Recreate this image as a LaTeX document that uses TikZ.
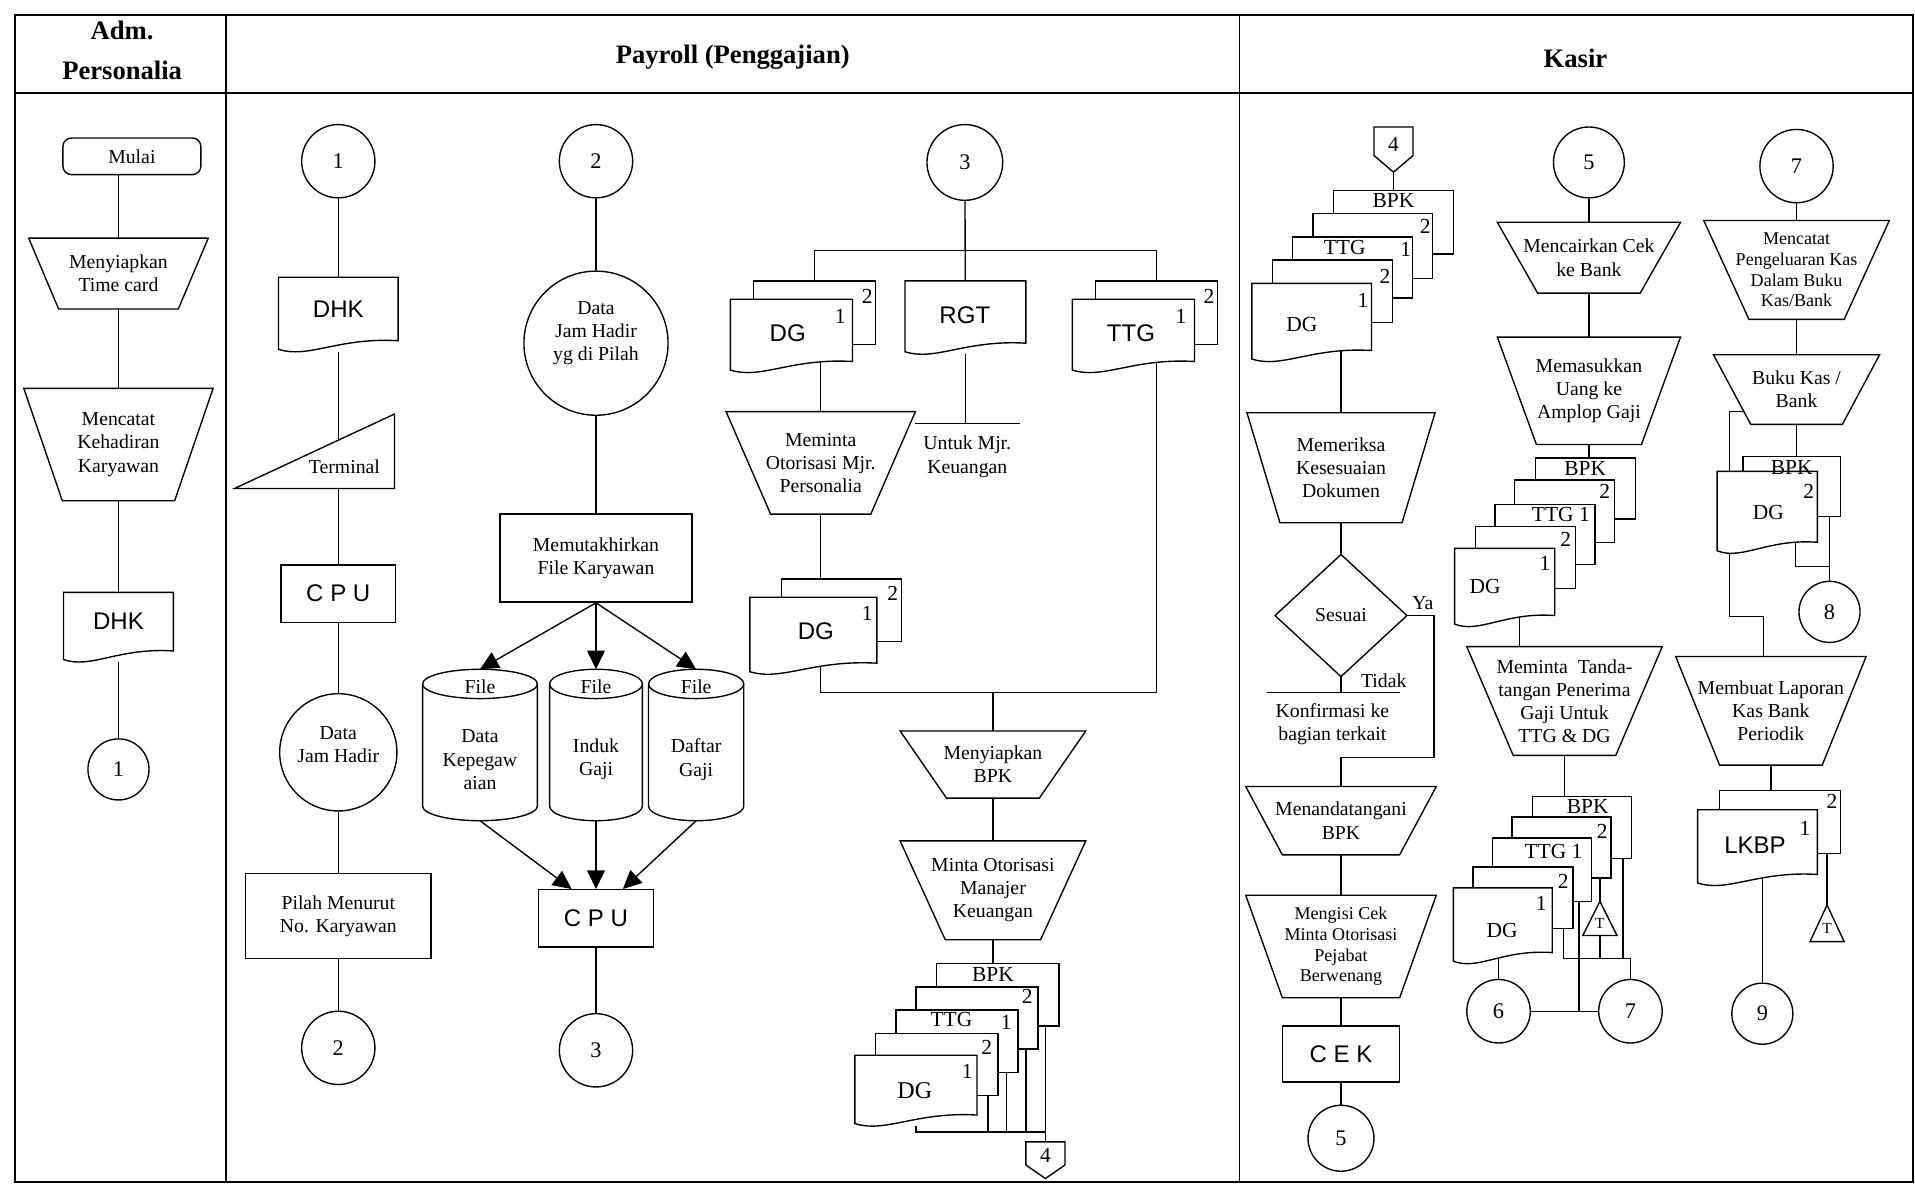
\documentclass[tikz,border=0pt]{standalone}
\usepackage{fontspec}
\setmainfont{Liberation Serif}
\setsansfont{Liberation Sans}
\usetikzlibrary{calc,arrows.meta}

\pgfdeclarelayer{lines}
\pgfsetlayers{lines,main}

\tikzset{
  flow/.style={line width=0.8pt},
  box/.style={draw,fill=white,flow,align=center,inner sep=1pt,font=\fontsize{11.5}{13.5}\selectfont},
  conn/.style={circle,draw,fill=white,flow,inner sep=0pt,font=\fontsize{13}{13}\selectfont},
  page/.style={draw,fill=white,flow,inner sep=0pt},
  anchorbox/.style={inner sep=0pt,outer sep=0pt},
  txt/.style={align=center,inner sep=0pt,font=\fontsize{11.5}{13.5}\selectfont},
  small/.style={align=center,inner sep=0pt,font=\fontsize{10.5}{12}\selectfont},
  code/.style={inner sep=0pt,font=\sffamily\fontsize{14}{16}\selectfont},
  num/.style={inner sep=0pt,font=\fontsize{12.5}{13}\selectfont},
  big/.style={inner sep=0pt,font=\fontsize{14}{14}\selectfont},
  head/.style={align=center,font=\bfseries\fontsize{15.5}{23.5}\selectfont},
  tee/.style={inner sep=0pt,font=\fontsize{9}{9}\selectfont},
  arr/.style={-{Triangle[length=3.8mm,width=3.6mm]}}
}

% manual operation: name, x, y, top width, bottom width, height, style, text
\newcommand{\manop}[8]{%
  \draw[flow,fill=white] ({#2-#4/2},{#3-#6/2}) -- ({#2+#4/2},{#3-#6/2})
    -- ({#2+#5/2},{#3+#6/2}) -- ({#2-#5/2},{#3+#6/2}) -- cycle;
  \node[#7] (#1) at (#2,#3) {#8};}
% document: name, left, top, width, height
\newcommand{\docshape}[5]{%
  \draw[flow,fill=white] (#2,#3) -- ({#2+#4},#3) -- ({#2+#4},{#3+#5-9})
    .. controls ({#2+#4/2},{#3+#5-12}) and ({#2+#4/4},{#3+#5+6}) .. (#2,{#3+#5-2}) -- cycle;
  \node[anchorbox,minimum width={#4*0.25mm},minimum height={#5*0.25mm}] (#1) at ({#2+#4/2},{#3+#5/2}) {};}
% copy behind a document: name, left, top, width, height
\newcommand{\sheet}[5]{%
  \node[page,minimum width={#4*0.25mm},minimum height={#5*0.25mm}] (#1) at ({#2+#4/2},{#3+#5/2}) {};}
% off-page connector: name, x, top, height, text
\newcommand{\offpage}[5]{%
  \draw[flow,fill=white] ({#2-16},#3) -- ({#2+16},#3) -- ({#2+16},{#3+0.63*#4})
    -- (#2,{#3+#4}) -- ({#2-16},{#3+0.63*#4}) -- cycle;
  \node[num] (#1) at (#2,{#3+0.38*#4}) {#5};}
% disk file: name, x, y, width, height
\newcommand{\drum}[5]{%
  \node[anchorbox,minimum width={#4*0.25mm},minimum height={#5*0.25mm}] (#1) at (#2,#3) {};
  \draw[flow,fill=white] ({#2-#4/2},{#3-#5/2+12}) -- ({#2-#4/2},{#3+#5/2-12})
    arc[start angle=180,end angle=360,x radius={#4/2*0.25mm},y radius=3mm]
    -- ({#2+#4/2},{#3-#5/2+12})
    arc[start angle=0,end angle=180,x radius={#4/2*0.25mm},y radius=3mm] -- cycle;
  \draw[flow] ({#2-#4/2},{#3-#5/2+12})
    arc[start angle=180,end angle=360,x radius={#4/2*0.25mm},y radius=3mm];}

\begin{document}
\begin{tikzpicture}[x=0.25mm,y=-0.25mm]
  \useasboundingbox (0,0) rectangle (1568,974);
  % frame and lanes
  \draw[line width=1.2pt] (12,12) rectangle (1566,968);
  \draw[line width=1.2pt] (12,76) -- (1566,76);
  \draw[flow] (185,12) -- (185,968);
  \draw[flow] (1015,12) -- (1015,968);
  \node[head] (admT) at (100,41) {Adm.\\Personalia};
  \node[head] (payT) at (600,47) {Payroll (Penggajian)};
  \node[head] (kasT) at (1290,48) {Kasir};

  % Adm. Personalia
  \node[box,rounded corners=5pt,minimum width=28.25mm,minimum height=7.5mm] (mulai) at (108,128) {Mulai};
  \manop{prep}{97}{224}{147}{98}{58}{txt}{Menyiapkan\\Time card}
  \manop{catat}{97}{364}{155}{92}{92}{txt}{Mencatat\\Kehadiran\\Karyawan}
  \docshape{dhkA}{52}{485}{90}{57}
  \node[code] (dhkAt) at (97,509) {DHK};
  \node[conn,minimum size=12.5mm] (c1a) at (97,630) {1};

  % Payroll, first flow
  \node[conn,minimum size=15mm] (c1b) at (277,132) {1};
  \docshape{dhkB}{228}{227}{98}{61}
  \node[code] (dhkBt) at (277,253) {DHK};
  \draw[flow,fill=white] (192,400) -- (323,339) -- (323,400) -- cycle;
  \node[txt] (term) at (282,382) {Terminal};
  \node[box,code,minimum width=23.5mm,minimum height=11.75mm] (cpuA) at (277,486) {C P U};
  \node[conn,minimum size=24mm] (jamA) at (277,616) {};
  \node[txt] (jamAt) at (277,610) {Data\\Jam Hadir};
  \node[box,minimum width=38mm,minimum height=17.5mm] (pilah) at (277,750) {Pilah Menurut\\No. Karyawan};
  \node[conn,minimum size=15mm] (c2a) at (277,858) {2};

  % Payroll, second flow
  \node[conn,minimum size=15mm] (c2b) at (488,132) {2};
  \node[conn,minimum size=29.5mm] (jamB) at (488,281) {};
  \node[txt] (jamBt) at (488,273) {Data\\Jam Hadir\\yg di Pilah};
  \node[box,minimum width=39.25mm,minimum height=18mm] (mutakhir) at (488,457) {Memutakhirkan\\File Karyawan};
  \drum{cylA}{393}{610}{94}{124}
  \drum{cylB}{488}{610}{76}{124}
  \drum{cylC}{570}{610}{78}{124}
  \node[txt] (cylAf) at (393,562) {File};
  \node[txt] (cylBf) at (488,562) {File};
  \node[txt] (cylCf) at (570,562) {File};
  \node[txt] (cylAt) at (393,622) {Data\\Kepegaw\\aian};
  \node[txt] (cylBt) at (488,622) {Induk\\Gaji};
  \node[txt] (cylCt) at (570,622) {Daftar\\Gaji};
  \node[box,code,minimum width=23.5mm,minimum height=11.75mm] (cpuB) at (488,752) {C P U};
  \node[conn,minimum size=15mm] (c3a) at (488,860) {3};

  % Payroll, third flow
  \node[conn,minimum size=15.5mm] (c3b) at (790,133) {3};
  \coordinate (busA) at (790,205);
  \sheet{dg1b}{617}{230}{100}{52}
  \node[num] (dg1bn) at (710,243) {2};
  \docshape{dg1}{598}{245}{100}{60}
  \node[num] (dg1n) at (688,259) {1};
  \node[code] (dg1t) at (645,273) {DG};
  \docshape{rgt}{741}{230}{99}{60}
  \node[code] (rgtt) at (790,258) {RGT};
  \coordinate (annL) at (749,347);
  \coordinate (annR) at (835,347);
  \node[txt] (annt) at (792,374) {Untuk Mjr.\\Keuangan};
  \sheet{ttgb}{897}{230}{100}{52}
  \node[num] (ttgbn) at (990,243) {2};
  \docshape{ttg}{878}{245}{100}{60}
  \node[num] (ttgn) at (967,259) {1};
  \node[code] (ttgt) at (926,273) {TTG};
  \manop{minta1}{672}{379}{155}{82}{84}{txt}{Meminta\\Otorisasi Mjr.\\Personalia}
  \sheet{dg2b}{640}{474}{98}{51}
  \node[num] (dg2bn) at (731,486) {2};
  \docshape{dg2}{614}{489}{104}{63}
  \node[num] (dg2n) at (710,502) {1};
  \node[code] (dg2t) at (668,517) {DG};
  \coordinate (busB) at (813,567);
  \manop{bpk1}{813}{626}{152}{76}{55}{txt}{Menyiapkan\\BPK}
  \manop{minta2}{813}{729}{152}{78}{81}{txt}{Minta Otorisasi\\Manajer\\Keuangan}
  \sheet{pay4}{767}{789}{100}{51}
  \node[num] (pay4t) at (813,798) {BPK};
  \sheet{pay3}{750}{808}{100}{51}
  \node[num] (pay3n) at (841,816) {2};
  \sheet{pay2}{733.5}{827}{100}{51}
  \node[num] (pay2t) at (779,835) {TTG};
  \node[num] (pay2n) at (824,837) {1};
  \sheet{pay1}{717}{846}{100}{51}
  \node[num] (pay1n) at (808,858) {2};
  \docshape{pay0}{700}{864}{100}{58}
  \node[num] (pay0n) at (792,877) {1};
  \node[big] (pay0t) at (749,893) {DG};
  \coordinate (busC) at (856,927);
  \offpage{conn4a}{856}{935}{30}{4}

  % Kasir, first flow
  \offpage{conn4b}{1141}{104}{37}{4}
  \sheet{kas4}{1092}{156}{98}{52}
  \node[num] (kas4t) at (1141,164) {BPK};
  \sheet{kas3}{1075}{175}{98}{53}
  \node[num] (kas3n) at (1167,185) {2};
  \sheet{kas2}{1058.5}{194}{98}{50}
  \node[num] (kas2t) at (1101,203) {TTG};
  \node[num] (kas2n) at (1151,204) {1};
  \sheet{kas1}{1042}{213}{98}{51}
  \node[num] (kas1n) at (1134,226) {2};
  \docshape{kas0}{1025}{232}{98}{64}
  \node[num] (kas0n) at (1116,246) {1};
  \node[num] (kas0t) at (1066,266) {DG};
  \manop{meriksa}{1098}{383}{154}{100}{90}{txt}{Memeriksa\\Kesesuaian\\Dokumen}
  \draw[flow,fill=white] (1098,454) -- (1152,504) -- (1098,554) -- (1044,504) -- cycle;
  \node[txt] (sesuai) at (1098,504) {Sesuai};
  \node[txt] (ya) at (1165,494) {Ya};
  \node[txt] (tidak) at (1133,557) {Tidak};
  \coordinate (yaC) at (1174,620);
  \coordinate (konfL) at (1037,567);
  \coordinate (konfR) at (1146,567);
  \node[txt] (konf) at (1091,593) {Konfirmasi ke\\bagian terkait};
  \manop{tanda}{1098}{672}{156}{96}{56}{txt}{Menandatangani\\BPK}
  \manop{mengisi}{1098}{775}{156}{96}{84}{small}{Mengisi Cek\\Minta Otorisasi\\Pejabat\\Berwenang}
  \node[box,code,minimum width=24mm,minimum height=11.5mm] (cek) at (1098,863) {C E K};
  \node[conn,minimum size=13.5mm] (c5a) at (1098,932) {5};

  % Kasir, second flow
  \node[conn,minimum size=14.5mm] (c5b) at (1301,133) {5};
  \manop{cair}{1301}{211}{150}{84}{58}{txt}{Mencairkan Cek\\ke Bank}
  \manop{masuk}{1301}{320}{150}{86}{88}{txt}{Memasukkan\\Uang ke\\Amplop Gaji}
  \sheet{kb4}{1257}{375}{82}{50}
  \node[num] (kb4t) at (1298,384) {BPK};
  \sheet{kb3}{1240}{393}{82}{51}
  \node[num] (kb3n) at (1314,402) {2};
  \sheet{kb2}{1224}{413}{82}{49}
  \node[num] (kb2t) at (1278,421) {TTG 1};
  \sheet{kb1}{1208}{431}{82}{51}
  \node[num] (kb1n) at (1282,442) {2};
  \docshape{kb0}{1191}{449}{82}{64}
  \node[num] (kb0n) at (1265,461) {1};
  \node[num] (kb0t) at (1216,480) {DG};
  \manop{minta3}{1281}{574}{160}{84}{89}{txt}{Meminta\ \ Tanda-\\tangan Penerima\\Gaji Untuk\\TTG \& DG}
  \sheet{kc4}{1255}{652}{81}{51}
  \node[num] (kc4t) at (1300,660) {BPK};
  \sheet{kc3}{1238}{669}{81}{50}
  \node[num] (kc3n) at (1312,681) {2};
  \sheet{kc2}{1222}{686}{81}{52}
  \node[num] (kc2t) at (1272,697) {TTG 1};
  \sheet{kc1}{1206}{710}{82}{50}
  \node[num] (kc1n) at (1280,722) {2};
  \docshape{kc0}{1190}{727}{81}{62}
  \node[num] (kc0n) at (1262,740) {1};
  \node[num] (kc0t) at (1230,762) {DG};
  \draw[flow,fill=white] (1310,738) -- (1324,766) -- (1296,766) -- cycle;
  \node[tee] (offA) at (1310,756) {T};
  \coordinate (j7) at (1335,785);
  \node[conn,minimum size=13mm] (c6) at (1227,828) {6};
  \node[conn,minimum size=13mm] (c7) at (1335,828) {7};

  % Kasir, third flow
  \node[conn,minimum size=15mm] (c7b) at (1471,136) {7};
  \manop{mencatat}{1471}{221}{152}{78}{81}{small}{Mencatat\\Pengeluaran Kas\\Dalam Buku\\Kas/Bank}
  \manop{buku}{1471}{319}{136}{75}{57}{txt}{Buku Kas /\\Bank}
  \sheet{kd1}{1427}{374}{80}{49}
  \docshape{kd0}{1406}{386}{82}{67}
  \node[num] (kd1t) at (1467,383) {BPK};
  \node[num] (kd0n) at (1481,402) {2};
  \node[num] (kd0t) at (1448,420) {DG};
  \coordinate (bk1) at (1416,337);
  \coordinate (bk2) at (1444,505);
  \coordinate (j8) at (1498,464);
  \node[conn,minimum size=12.5mm] (c8) at (1498,501) {8};
  \manop{membuat}{1450}{582}{156}{84}{89}{txt}{Membuat Laporan\\Kas Bank\\Periodik}
  \sheet{ke1}{1408}{647}{99}{52}
  \node[num] (ke1n) at (1500,656) {2};
  \docshape{ke0}{1390}{663}{98}{62}
  \node[num] (ke0n) at (1478,678) {1};
  \node[code] (ke0t) at (1437,692) {LKBP};
  \draw[flow,fill=white] (1496,741) -- (1510,771) -- (1482,771) -- cycle;
  \node[tee] (offB) at (1496,760) {T};
  \node[conn,minimum size=12.5mm] (c9) at (1443,830) {9};

  % connectors, kept behind the symbols
  \begin{pgfonlayer}{lines}
    \draw[flow] (mulai.south -| prep) -- (prep) -- (catat) -- (dhkA) -- (c1a);
    \draw[flow] (c1b) -- (dhkB) -- (cpuA) -- (jamA) -- (pilah) -- (c2a);
    \draw[flow] (c2b) -- (jamB) -- (mutakhir);
    \draw[flow,arr] (mutakhir.south) -- (cylA.north);
    \draw[flow,arr] (mutakhir.south) -- (cylB.north);
    \draw[flow,arr] (mutakhir.south) -- (cylC.north);
    \draw[flow,arr] (cylA.south) -- ($(cpuB.north)+(-20,0)$);
    \draw[flow,arr] (cylB.south) -- (cpuB.north);
    \draw[flow,arr] (cylC.south) -- ($(cpuB.north)+(22,0)$);
    \draw[flow] (cpuB) -- (c3a);

    \draw[flow] (c3b) -- (rgt);
    \draw[flow] (dg1b) |- (busA) -| (ttgb);
    \draw[flow] (rgt) -- (rgt |- annL);
    \draw[flow] (annL) -- (annR);
    \draw[flow] (minta1 |- dg1) -- (minta1) -- (minta1 |- dg2b);
    \draw[flow] (minta1 |- dg2) |- (busB) -| (ttgb |- ttg);
    \draw[flow] (busB) -- (bpk1) -- (minta2) -- (minta2 |- pay4);
    \draw[flow] (pay0) |- (busC) -- (conn4a);
    \draw[flow] (809,0 |- pay1) -- (809,0 |- busC);
    \draw[flow] (824,0 |- pay2) -- (824,0 |- busC);
    \draw[flow] (840,0 |- pay3) -- (840,0 |- busC);
    \draw[flow] (856,0 |- pay4) -- (busC);

    \draw[flow] (conn4b) -- (conn4b |- kas4);
    \draw[flow] (meriksa |- kas0) -- (meriksa) -- (sesuai);
    \draw[flow] (sesuai) -- (sesuai |- konfL);
    \draw[flow] (konfL) -- (konfR);
    \draw[flow] (sesuai) -| (yaC) -| (tanda);
    \draw[flow] (tanda) -- (mengisi) -- (cek) -- (c5a);

    \draw[flow] (c5b) -- (cair) -- (masuk) -- (masuk |- kb4);
    \draw[flow] (1244,0 |- kb0) -- (1244,0 |- minta3);
    \draw[flow] (minta3) -- (minta3 |- kc4);
    \draw[flow] (c6 |- kc0) -- (c6) -- (c7);
    \draw[flow] (1280,0 |- kc1) |- (j7) -- (c7);
    \draw[flow] (1293,0 |- kc2) -- (1293,0 |- c6);
    \draw[flow] (offA |- kc3) -- (offA) -- (offA |- j7);
    \draw[flow] (1329,0 |- kc4) -- (1329,0 |- j7);

    \draw[flow] (c7b) -- (mencatat) -- (buku) -- (buku |- kd1);
    \draw[flow] (buku |- bk1) -- (bk1) |- (bk2) -- (bk2 |- membuat);
    \draw[flow] (1470,0 |- kd0) |- (j8) -- (c8);
    \draw[flow] (1498,0 |- kd1) -- (j8);
    \draw[flow] (membuat) -- (membuat |- ke1);
    \draw[flow] (1496,0 |- ke1) -- (offB);
    \draw[flow] (c9 |- ke0) -- (c9);
  \end{pgfonlayer}
\end{tikzpicture}
\end{document}
